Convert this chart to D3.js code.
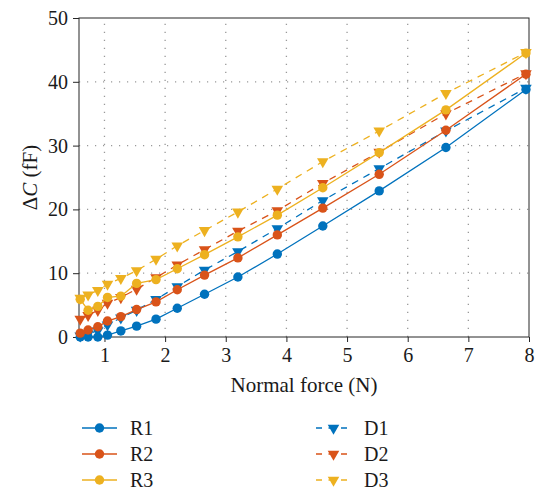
<!DOCTYPE html>
<html>
<head>
<meta charset="utf-8">
<script src="https://cdn.jsdelivr.net/npm/d3@7"></script>
<style>
  body { margin: 0; background: #fff; }
  svg { display: block; font-family: "Liberation Serif", "DejaVu Serif", serif; }
</style>
</head>
<body>
<svg width="539" height="492"></svg>
<script>
// normal force (N), shared by all six series
var force = [0.6, 0.73, 0.89, 1.05, 1.27, 1.53, 1.85, 2.2, 2.65, 3.2, 3.85, 4.6, 5.53, 6.63, 7.95];

var R1 = [0, 0, 0, 0.3, 0.95, 1.7, 2.8, 4.5, 6.7, 9.4, 13.0, 17.4, 22.9, 29.7, 38.8];
var R2 = [0.6, 1.1, 1.6, 2.5, 3.2, 4.3, 5.5, 7.4, 9.7, 12.4, 16.0, 20.2, 25.5, 32.4, 41.2];
var R3 = [5.9, 4.2, 4.8, 6.2, 6.4, 8.4, 9.0, 10.7, 12.9, 15.7, 19.1, 23.4, 28.9, 35.6, 44.5];
var D1 = [0.2, 0.5, 1.0, 1.9, 3.0, 4.2, 5.9, 7.9, 10.5, 13.4, 17.0, 21.4, 26.4, 32.3, 39.0];
var D2 = [2.8, 3.4, 4.2, 5.3, 6.2, 7.5, 9.3, 11.3, 13.7, 16.6, 19.8, 24.1, 29.0, 35.0, 41.3];
var D3 = [6.1, 6.6, 7.3, 8.3, 9.2, 10.4, 12.2, 14.3, 16.7, 19.6, 23.2, 27.5, 32.3, 38.2, 44.6];

var xTicks = [1, 2, 3, 4, 5, 6, 7, 8];
var yTicks = [0, 10, 20, 30, 40, 50];

// plot order is interleaved, same as the legend (row-wise, 2 columns)
var series = [
  {name: "R1", values: R1, color: "#0072BD", dashed: false},
  {name: "D1", values: D1, color: "#0072BD", dashed: true},
  {name: "R2", values: R2, color: "#D95319", dashed: false},
  {name: "D2", values: D2, color: "#D95319", dashed: true},
  {name: "R3", values: R3, color: "#EDB120", dashed: false},
  {name: "D3", values: D3, color: "#EDB120", dashed: true}
];

var svg = d3.select("svg"),
    pLeft = 79, pRight = 529, pTop = 18, pBottom = 337;

var x = d3.scaleLinear().domain([0.58, 8]).range([pLeft, pRight]);
var y = d3.scaleLinear().domain([0, 50]).range([pBottom, pTop]);

// dotted grid
var grid = svg.append("g").attr("stroke", "#999").attr("stroke-width", 1.3)
    .attr("stroke-dasharray", "1.2,6.8");
grid.selectAll(".gx").data(xTicks.slice(0, -1)).enter().append("line")
    .attr("x1", x).attr("x2", x).attr("y1", pBottom).attr("y2", pTop);
grid.selectAll(".gy").data(yTicks.slice(1, -1)).enter().append("line")
    .attr("x1", pLeft).attr("x2", pRight).attr("y1", y).attr("y2", y);

// box
svg.append("rect")
    .attr("x", pLeft).attr("y", pTop)
    .attr("width", pRight - pLeft).attr("height", pBottom - pTop)
    .attr("fill", "none").attr("stroke", "#262626").attr("stroke-width", 1);

var xAxis = svg.append("g")
    .attr("transform", "translate(0," + pBottom + ")")
    .call(d3.axisBottom(x).tickValues(xTicks).tickSize(5).tickPadding(6));
var yAxis = svg.append("g")
    .attr("transform", "translate(" + pLeft + ",0)")
    .call(d3.axisLeft(y).tickValues(yTicks).tickSize(6).tickPadding(5));

[xAxis, yAxis].forEach(function(a) {
  a.select(".domain").remove();
  a.selectAll("line").attr("stroke", "#262626");
  a.selectAll("text")
    .attr("fill", "#1a1a1a")
    .style("font-family", "Liberation Serif, serif")
    .style("font-size", "20px");
});

svg.append("text")
    .attr("x", (pLeft + pRight) / 2).attr("y", 392)
    .attr("text-anchor", "middle")
    .attr("fill", "#1a1a1a")
    .style("font-size", "21px")
    .text("Normal force (N)");

var yLabel = svg.append("text")
    .attr("transform", "translate(37," + ((pTop + pBottom) / 2) + ") rotate(-90)")
    .attr("text-anchor", "middle")
    .attr("fill", "#1a1a1a")
    .style("font-size", "21px");
yLabel.append("tspan").text("Δ");
yLabel.append("tspan").style("font-style", "italic").text("C");
yLabel.append("tspan").text(" (fF)");

var line = d3.line()
    .x(function(d, i) { return x(force[i]); })
    .y(function(d) { return y(d); });

var tri = d3.symbol().type(d3.symbolTriangle).size(58);

function drawMarker(sel, s) {
  if (s.dashed) {
    sel.append("path").attr("d", tri).attr("transform", "rotate(180)");
  } else {
    sel.append("circle").attr("r", 4.7);
  }
}

series.forEach(function(s) {
  var g = svg.append("g");
  g.append("path")
      .datum(s.values)
      .attr("fill", "none")
      .attr("stroke", s.color)
      .attr("stroke-width", 1.3)
      .attr("stroke-dasharray", s.dashed ? "7,6" : null)
      .attr("d", line);

  g.selectAll(".m").data(s.values).enter().append("g")
      .attr("transform", function(d, i) { return "translate(" + x(force[i]) + "," + y(d) + ")"; })
      .attr("fill", s.color)
      .each(function() { drawMarker(d3.select(this), s); });
});

// legend, two columns filled row-wise
var legend = svg.append("g").selectAll("g").data(series).enter().append("g")
    .attr("transform", function(d, i) {
      return "translate(" + (i % 2 ? 316 : 82) + "," + (428 + Math.floor(i / 2) * 26) + ")";
    });

legend.append("line")
    .attr("x1", 0).attr("x2", 35).attr("y1", 0).attr("y2", 0)
    .attr("stroke", function(d) { return d.color; })
    .attr("stroke-width", 1.3)
    .attr("stroke-dasharray", function(d) { return d.dashed ? "6,6.5" : null; });

legend.append("g")
    .attr("transform", "translate(17.5,0)")
    .attr("fill", function(d) { return d.color; })
    .each(function(d) { drawMarker(d3.select(this), d); });

legend.append("text")
    .attr("x", 48).attr("y", 0).attr("dy", "0.35em")
    .attr("fill", "#1a1a1a")
    .style("font-size", "20px")
    .text(function(d) { return d.name; });
</script>
</body>
</html>
